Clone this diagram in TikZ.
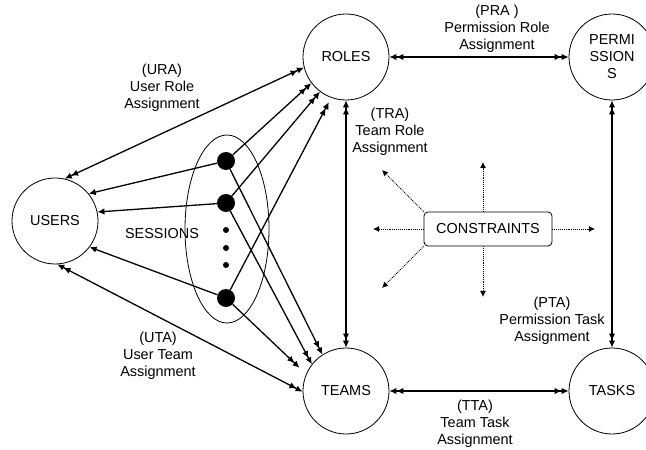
\documentclass[tikz,border=0pt]{standalone}
\usepackage{fontspec}
\setmainfont{Liberation Sans}
\usetikzlibrary{arrows.meta,calc}

\tikzset{
  ent/.style={circle, draw=black, line width=0.8bp, minimum size=86bp, inner sep=0pt, align=center},
  sess/.style={circle, fill=black, minimum size=18bp, inner sep=0pt},
  lbl/.style={align=center, inner sep=0pt},
  hd/.tip={Latex[length=7bp,width=6.5bp]},
  dhd/.tip={Latex[length=7bp,width=6.5bp]Latex[length=7bp,width=6.5bp]},
  one/.style={line width=1.3bp, -hd},
  two/.style={line width=1.3bp, -dhd},
  both/.style={line width=1.3bp, dhd-dhd},
  hint/.style={line width=0.9bp, densely dotted, -{Latex[length=6bp,width=6bp]}},
}

\begin{document}
\begin{tikzpicture}[x=1bp, y=-1bp, font=\fontsize{14.5}{17}\selectfont]
\useasboundingbox (0,0) rectangle (646,450);
% entities
\node[ent] (users) at (55,221) {USERS};
\node[ent] (roles) at (346,57) {ROLES};
\node[ent] (perms) at (612,57) {PERMI\\SSION\\S};
\node[ent] (teams) at (346,391) {TEAMS};
\node[ent] (tasks) at (612,391) {TASKS};
% sessions
\draw[line width=0.8bp] (227,229) ellipse [x radius=42, y radius=94];
\node[sess] (s1) at (226,161) {};
\node[sess] (s2) at (226,203) {};
\node[sess] (s3) at (226,298) {};
\foreach \y in {230,248,265}
  \fill (226,\y) circle[radius=3];
\node[lbl] (sesslbl) at (162,234) {SESSIONS};
% assignments
\draw[both] (users.77) -- (roles.194);
\draw[both] (users.273) -- (teams.181);
\draw[both] (roles) -- (perms);
\draw[both] (teams) -- (tasks);
\draw[both] (roles) -- (teams);
\draw[both] (perms) -- (tasks);
% sessions to users, roles and teams
\draw[one] (s1) -- (users.39);
\draw[one] (s2) -- (users.12);
\draw[one] (s3) -- (users.323);
\draw[two] (s1) -- (roles.217);
\draw[two] (s2) -- (roles.233);
\draw[two, shorten >=5bp] (s3) -- (roles.250);
\draw[two] (s1) -- (teams.123);
\draw[two] (s2) -- (teams.142);
\draw[two, shorten >=9bp] (s3) -- (teams.157);
% labels
\node[lbl] (ura) at (162,88) {(URA)\\User Role\\Assignment};
\node[lbl] (uta) at (158,356) {(UTA)\\User Team\\Assignment};
\node[lbl] (pra) at (497,29) {(PRA )\\Permission Role\\Assignment};
\node[lbl] (tra) at (390,132) {(TRA)\\Team Role\\Assignment};
\node[lbl] (pta) at (552,321) {(PTA)\\Permission Task\\Assignment};
\node[lbl] (tta) at (475,424) {(TTA)\\Team Task\\Assignment};
% constraints
\node[draw, rounded corners=4bp, line width=0.8bp, minimum width=128bp, minimum height=34bp] (cons) at (488,229) {CONSTRAINTS};
\coordinate (cl) at (373,229);
\coordinate (cr) at (595,229);
\coordinate (cu) at (483,162);
\coordinate (cd) at (483,297);
\coordinate (cul) at (382,170);
\coordinate (cdl) at (382,288);
\draw[hint] (cons.west) -- (cl);
\draw[hint] (cons.east) -- (cr);
\draw[hint] (cons.north -| cu) -- (cu);
\draw[hint] (cons.south -| cd) -- (cd);
\draw[hint] (cons.north west) -- (cul);
\draw[hint] (cons.south west) -- (cdl);
\end{tikzpicture}
\end{document}
